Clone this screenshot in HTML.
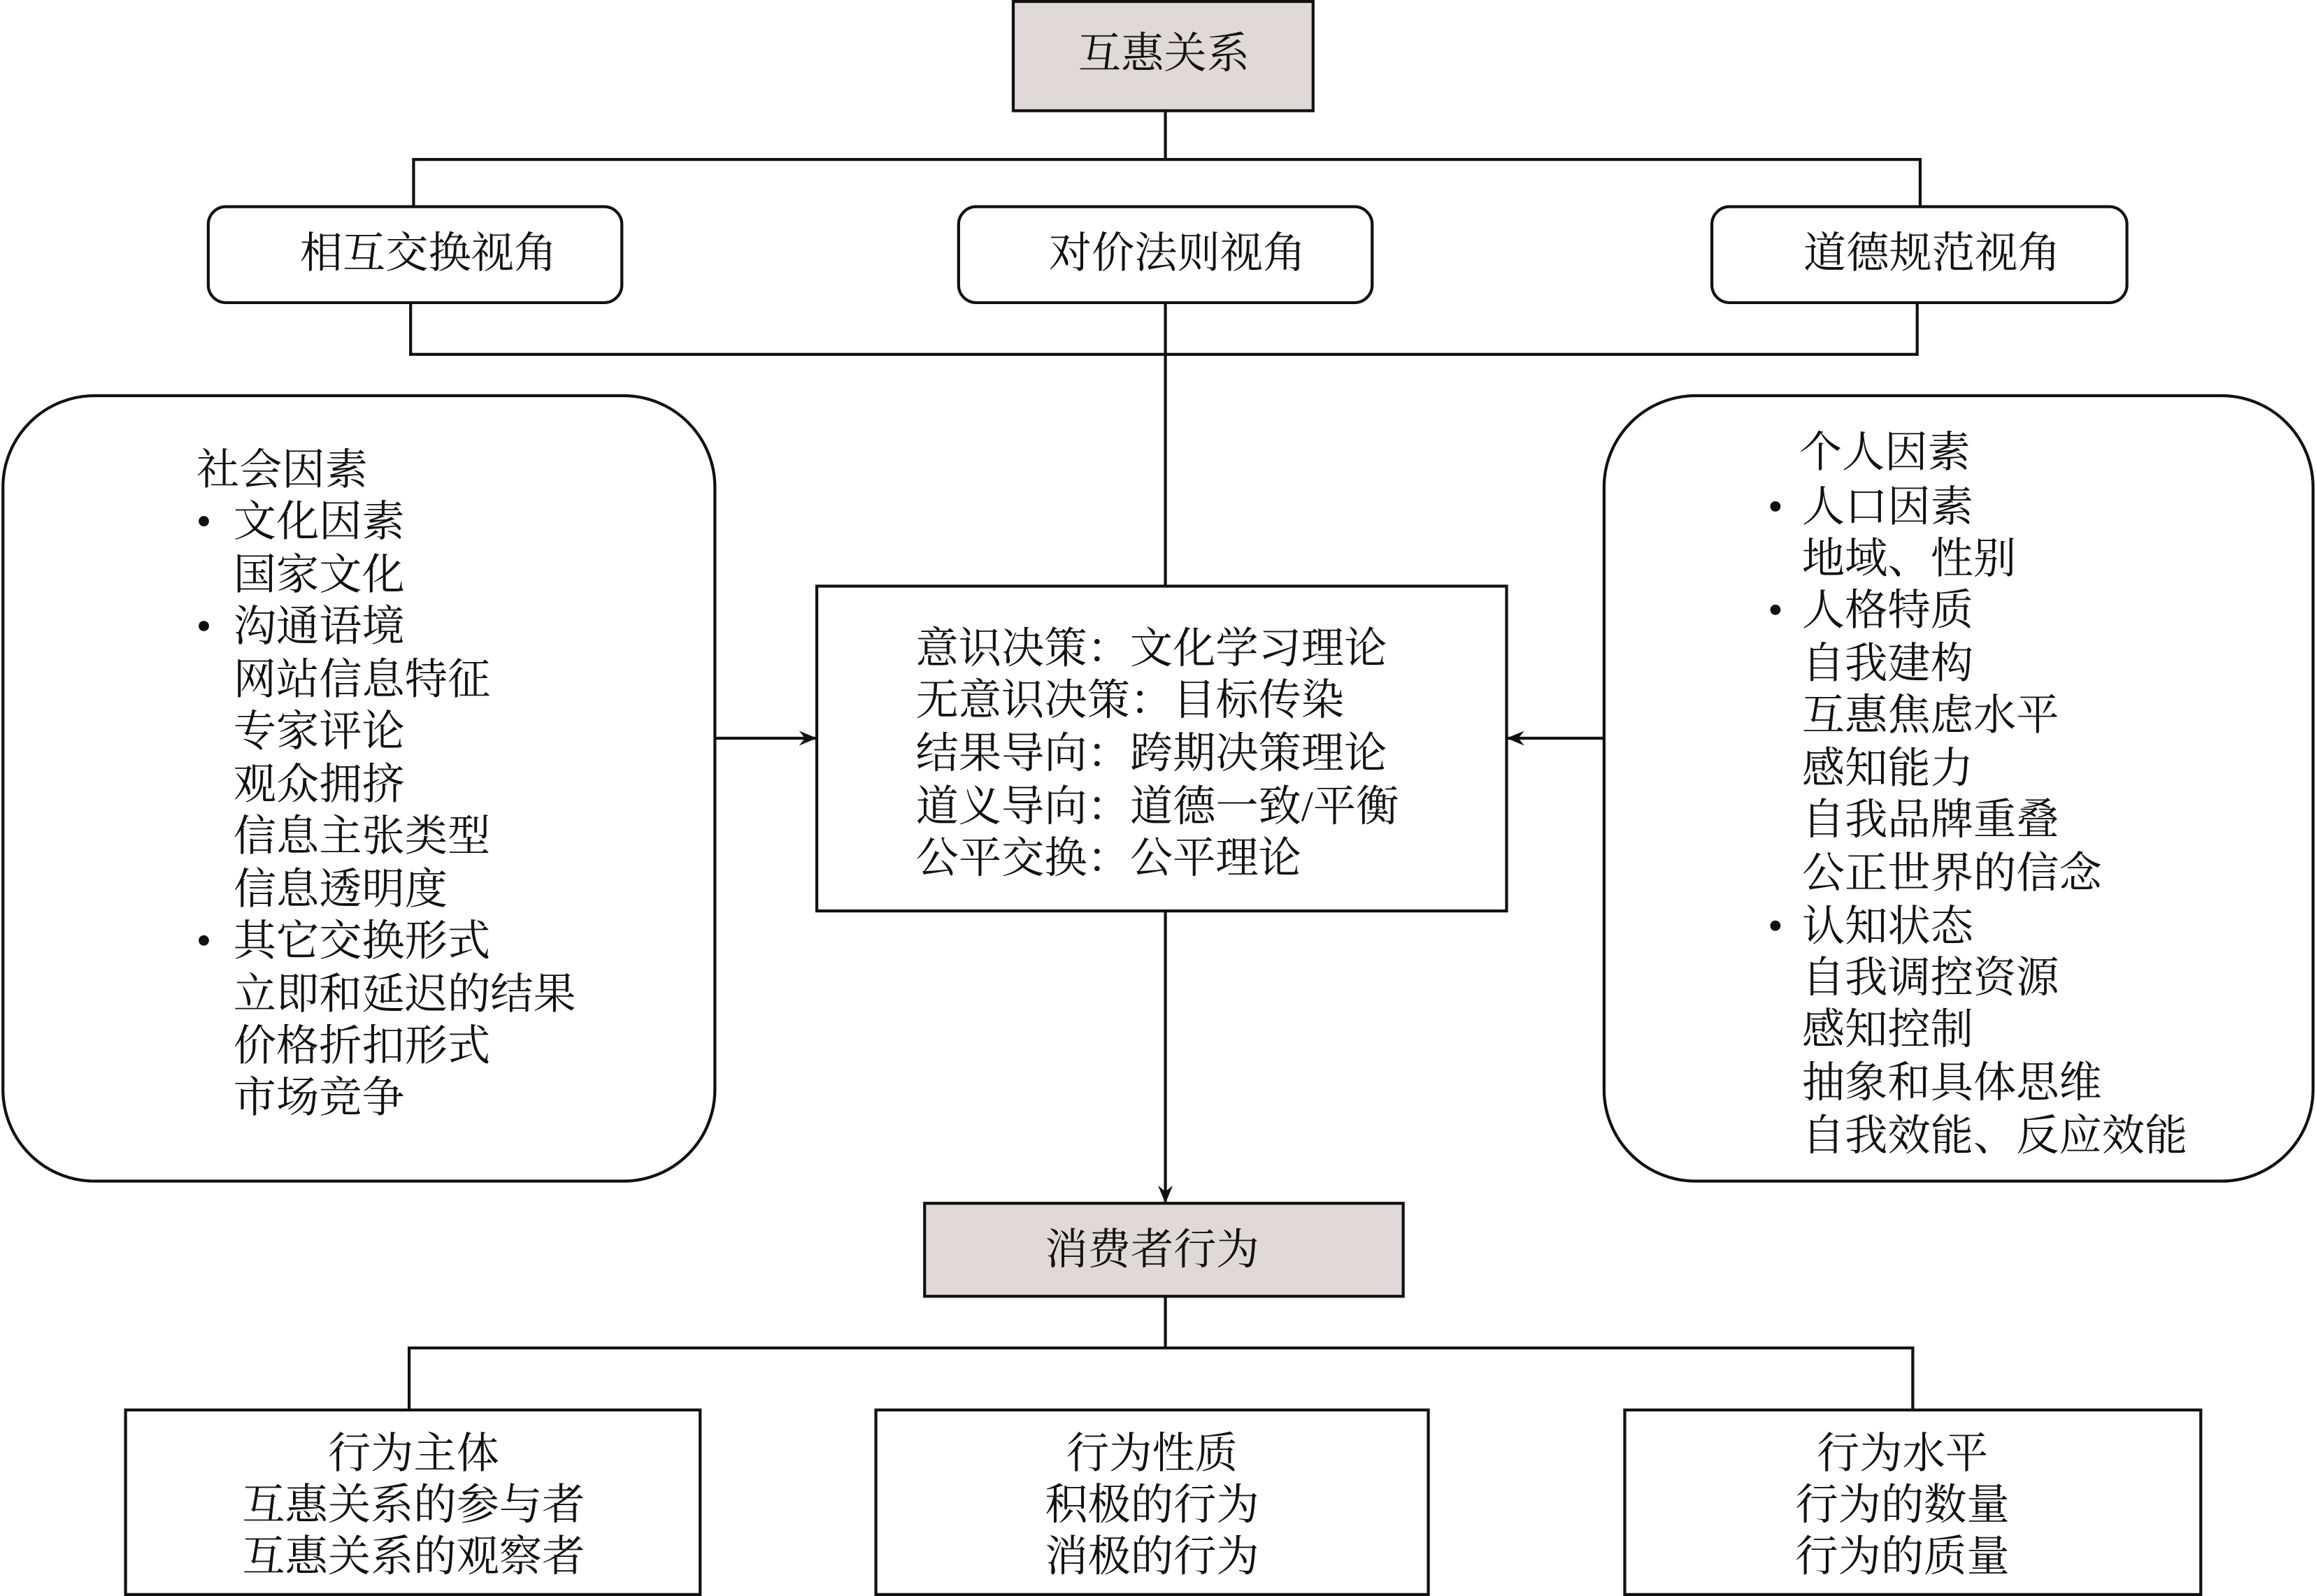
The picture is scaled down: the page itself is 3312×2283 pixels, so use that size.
<!DOCTYPE html>
<html><head><meta charset="utf-8">
<style>
html,body{margin:0;padding:0;background:#fff;}
svg{display:block;}
text{font-family:"Liberation Serif","Noto Serif CJK SC","Noto Sans CJK SC",serif;font-size:29px;fill:#111;}
</style></head>
<body>
<svg width="3312" height="2283" viewBox="0 0 1568 1081" preserveAspectRatio="none" xmlns="http://www.w3.org/2000/svg">
<defs>
<marker id="ah" markerWidth="12" markerHeight="10" refX="11" refY="5" orient="auto" markerUnits="userSpaceOnUse">
<path d="M0,0 L12,5 L0,10 L4,5 Z" fill="#111"/>
</marker>
</defs>
<g stroke="#111" stroke-width="2" fill="none">
<rect x="686" y="1" width="203" height="74" fill="#e1d9d7"/>
<line x1="789" y1="75" x2="789" y2="108"/>
<polyline points="280,140 280,108 1300,108 1300,140"/>
<rect x="141" y="140" width="280" height="65" rx="12"/>
<rect x="649" y="140" width="280" height="65" rx="12"/>
<rect x="1159" y="140" width="281" height="65" rx="12"/>
<polyline points="278,205 278,240 1298,240 1298,205"/>
<line x1="789" y1="205" x2="789" y2="397"/>
<rect x="2" y="268" width="482" height="532" rx="62"/>
<rect x="1086" y="268" width="480" height="532" rx="62"/>
<rect x="553" y="397" width="467" height="220"/>
<line x1="484" y1="500" x2="552" y2="500" marker-end="url(#ah)"/>
<line x1="1086" y1="500" x2="1021" y2="500" marker-end="url(#ah)"/>
<line x1="789" y1="617" x2="789" y2="814" marker-end="url(#ah)"/>
<rect x="626" y="815" width="324" height="63" fill="#e1d9d7"/>
<line x1="789" y1="878" x2="789" y2="913"/>
<polyline points="277,955 277,913 1295,913 1295,955"/>
<rect x="85" y="955" width="389" height="125"/>
<rect x="593" y="955" width="374" height="125"/>
<rect x="1100" y="955" width="390" height="125"/>
</g>
<g text-anchor="middle">
<text x="788" y="46">互惠关系</text>
<text x="290" y="181">相互交换视角</text>
<text x="797" y="181">对价法则视角</text>
<text x="1308" y="181">道德规范视角</text>
<text x="780" y="856">消费者行为</text>
<text x="280" y="994">行为主体</text>
<text x="280" y="1029">互惠关系的参与者</text>
<text x="280" y="1064">互惠关系的观察者</text>
<text x="780" y="994">行为性质</text>
<text x="780" y="1029">积极的行为</text>
<text x="780" y="1064">消极的行为</text>
<text x="1288" y="994">行为水平</text>
<text x="1288" y="1029">行为的数量</text>
<text x="1288" y="1064">行为的质量</text>
</g>
<g>
<text x="620" y="449">意识决策：文化学习理论</text>
<text x="620" y="484">无意识决策：目标传染</text>
<text x="620" y="520">结果导向：跨期决策理论</text>
<text x="620" y="556">道义导向：道德一致/平衡</text>
<text x="620" y="591">公平交换：公平理论</text>

<text x="133" y="328">社会因素</text>
<text x="158" y="363">文化因素</text>
<text x="158" y="399">国家文化</text>
<text x="158" y="434">沟通语境</text>
<text x="158" y="470">网站信息特征</text>
<text x="158" y="505">专家评论</text>
<text x="158" y="541">观众拥挤</text>
<text x="158" y="576">信息主张类型</text>
<text x="158" y="612">信息透明度</text>
<text x="158" y="647">其它交换形式</text>
<text x="158" y="683">立即和延迟的结果</text>
<text x="158" y="718">价格折扣形式</text>
<text x="158" y="753">市场竞争</text>

<text x="1218" y="316">个人因素</text>
<text x="1220" y="353">人口因素</text>
<text x="1220" y="388">地域、性别</text>
<text x="1220" y="423">人格特质</text>
<text x="1220" y="459">自我建构</text>
<text x="1220" y="494">互惠焦虑水平</text>
<text x="1220" y="530">感知能力</text>
<text x="1220" y="565">自我品牌重叠</text>
<text x="1220" y="601">公正世界的信念</text>
<text x="1220" y="637">认知状态</text>
<text x="1220" y="672">自我调控资源</text>
<text x="1220" y="707">感知控制</text>
<text x="1220" y="743">抽象和具体思维</text>
<text x="1220" y="779">自我效能、反应效能</text>
</g>
<g fill="#111">
<circle cx="138" cy="353" r="3.5"/>
<circle cx="138" cy="424" r="3.5"/>
<circle cx="138" cy="637" r="3.5"/>
<circle cx="1202" cy="343" r="3.5"/>
<circle cx="1202" cy="413" r="3.5"/>
<circle cx="1202" cy="627" r="3.5"/>
</g>
</svg>
</body></html>
